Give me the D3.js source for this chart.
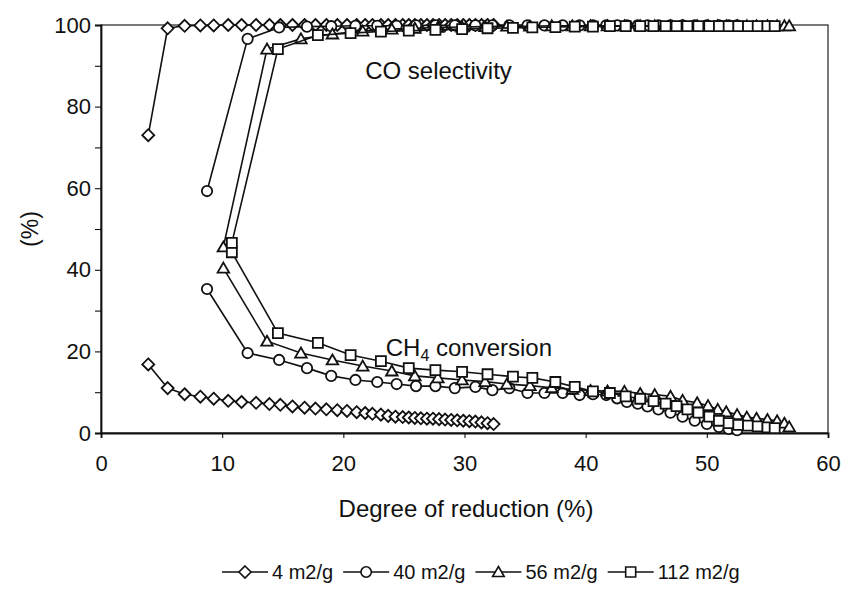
<!DOCTYPE html>
<html>
<head>
<meta charset="utf-8">
<script src="https://cdn.jsdelivr.net/npm/d3@7/dist/d3.min.js"></script>
<style>
  body { margin: 0; background: #fff; }
  svg text { font-family: "Liberation Sans", Arial, sans-serif; fill: #111; }
</style>
</head>
<body>
<svg id="chart" width="849" height="591"></svg>
<script>
// Axis ticks
const xTicks = [0, 10, 20, 30, 40, 50, 60];
const yTicks = [0, 20, 40, 60, 80, 100];
const yMinorTicks = [10, 30, 50, 70, 90];

// Series labels (specific surface area of the oxygen carrier)
const seriesNames = ["4 m2/g", "40 m2/g", "56 m2/g", "112 m2/g"];
const markerTypes = ["diamond", "circle", "triangle", "square"];

// 4 m2/g
const red4  = [3.9, 5.5, 6.9, 8.2, 9.3, 10.5, 11.6, 12.8, 13.9, 14.8, 15.8, 16.8, 17.7, 18.6, 19.5, 20.3, 21.1, 21.8, 22.4, 23.1, 23.7, 24.3, 24.9, 25.4, 25.9, 26.4, 26.9, 27.4, 27.9, 28.4, 28.9, 29.4, 29.9, 30.4, 30.9, 31.4, 31.9, 32.4];
const conv4 = [16.8, 11.0, 9.5, 8.9, 8.4, 7.9, 7.6, 7.4, 7.1, 6.9, 6.5, 6.2, 6.0, 5.8, 5.6, 5.4, 5.1, 4.9, 4.7, 4.5, 4.2, 4.0, 3.9, 3.8, 3.7, 3.6, 3.5, 3.5, 3.4, 3.3, 3.2, 3.1, 3.0, 2.9, 2.8, 2.6, 2.4, 2.2];
const sel4  = [73.0, 99.2, 99.8, 99.9, 99.9, 100, 100, 100, 100, 100, 100, 100, 100, 100, 100, 100, 100, 100, 100, 100, 100, 100, 100, 100, 100, 100, 100, 100, 100, 100, 100, 100, 100, 100, 100, 100, 100, 100];

// 40 m2/g
const red40  = [8.75, 12.1, 14.7, 17.0, 19.0, 21.0, 22.8, 24.4, 26.0, 27.6, 29.2, 30.9, 32.3, 33.7, 35.2, 36.6, 38.1, 39.5, 40.6, 41.7, 42.6, 43.4, 44.3, 45.1, 46.0, 47.0, 48.0, 49.0, 50.0, 51.0, 51.8, 52.5];
const conv40 = [35.3, 19.6, 17.9, 15.9, 14.0, 13.0, 12.5, 12.0, 11.5, 11.5, 11.0, 11.3, 10.5, 11.0, 9.8, 9.8, 9.8, 9.3, 9.5, 9.3, 8.5, 7.6, 7.2, 6.5, 5.8, 5.0, 4.0, 3.0, 2.2, 1.5, 1.0, 0.7];
const sel40  = [59.3, 96.6, 99.4, 99.6, 99.7, 99.8, 99.8, 99.8, 99.9, 99.9, 99.9, 99.9, 99.9, 99.9, 99.9, 99.9, 99.9, 99.9, 99.9, 99.9, 99.9, 99.9, 99.9, 99.9, 99.9, 99.9, 99.9, 99.9, 99.9, 99.9, 99.9, 99.9];

// 56 m2/g
const red56  = [10.1, 13.7, 16.5, 19.1, 21.6, 24.0, 25.9, 27.8, 29.8, 31.7, 33.5, 35.4, 37.2, 38.9, 40.4, 41.8, 43.2, 44.5, 45.7, 47.0, 48.0, 49.2, 50.1, 50.9, 51.6, 52.5, 53.3, 54.1, 55.0, 55.8, 56.4, 56.8];
const conv56 = [40.4, 22.5, 19.6, 17.9, 16.4, 15.2, 14.0, 13.5, 13.0, 12.6, 12.0, 11.6, 11.1, 10.7, 10.4, 10.3, 10.2, 9.7, 9.4, 9.0, 8.0, 7.4, 6.7, 5.8, 5.2, 4.5, 3.9, 3.6, 3.3, 3.0, 2.4, 1.5];
const sel56  = [45.6, 94.1, 96.6, 97.8, 98.5, 99.0, 99.2, 99.4, 99.5, 99.6, 99.7, 99.7, 99.8, 99.8, 99.8, 99.8, 99.8, 99.8, 99.8, 99.8, 99.8, 99.8, 99.8, 99.8, 99.8, 99.8, 99.8, 99.8, 99.8, 99.8, 99.8, 99.8];

// 112 m2/g
const red112  = [10.8, 14.6, 17.9, 20.6, 23.1, 25.4, 27.6, 29.8, 31.9, 34.0, 35.6, 37.5, 39.1, 40.6, 42.0, 43.3, 44.5, 45.6, 46.6, 47.5, 48.4, 49.3, 50.2, 51.0, 51.8, 52.6, 53.4, 54.2, 55.0, 55.6];
const conv112 = [44.3, 24.5, 22.1, 19.1, 17.6, 15.9, 15.4, 15.0, 14.4, 13.8, 13.5, 12.5, 11.3, 10.2, 9.8, 9.0, 8.4, 7.8, 7.2, 6.6, 5.8, 5.0, 4.0, 3.0, 2.4, 2.0, 1.8, 1.6, 1.4, 1.2];
const sel112  = [46.6, 94.1, 97.5, 98.0, 98.4, 98.6, 98.8, 99.0, 99.2, 99.3, 99.4, 99.5, 99.6, 99.6, 99.7, 99.7, 99.7, 99.7, 99.7, 99.7, 99.7, 99.7, 99.7, 99.7, 99.7, 99.7, 99.7, 99.7, 99.7, 99.7];

const reductions  = [red4, red40, red56, red112];
const conversions = [conv4, conv40, conv56, conv112];
const selectivities = [sel4, sel40, sel56, sel112];

// Layout
const plot = { left: 101, right: 828, top: 25, bottom: 433 };
const svg = d3.select("#chart");

const x = d3.scaleLinear().domain([0, 60]).range([plot.left, plot.right]);
const y = d3.scaleLinear().domain([0, 100]).range([plot.bottom, plot.top]);

// Marker outlines drawn around (0,0)
function markerPath(type) {
  switch (type) {
    case "diamond":  return "M0,-6L6,0L0,6L-6,0Z";
    case "circle":   return d3.symbol(d3.symbolCircle, Math.PI * 5.2 * 5.2)();
    case "triangle": return "M0,-5.5L5.8,4.5L-5.8,4.5Z";
    case "square":   return "M-5,-5H5V5H-5Z";
  }
}

// Plot frame
svg.append("rect")
  .attr("x", plot.left).attr("y", plot.top)
  .attr("width", plot.right - plot.left).attr("height", plot.bottom - plot.top)
  .attr("fill", "none").attr("stroke", "#222").attr("stroke-width", 1.2);

// Axes
const xAxis = d3.axisBottom(x).tickValues(xTicks).tickSize(5).tickPadding(17);
const yAxis = d3.axisLeft(y).tickValues(yTicks).tickSize(6).tickPadding(4);

const gx = svg.append("g").attr("transform", `translate(0,${plot.bottom})`).call(xAxis);
const gy = svg.append("g").attr("transform", `translate(${plot.left},0)`).call(yAxis);
svg.append("g").attr("transform", `translate(${plot.left},0)`)
  .call(d3.axisLeft(y).tickValues(yMinorTicks).tickSize(6).tickFormat(""))
  .select(".domain").remove();

[gx, gy].forEach(g => {
  g.select(".domain").attr("stroke", "#111").attr("stroke-width", 1.8);
  g.selectAll(".tick text").attr("font-size", 22).attr("fill", "#111")
    .style("font-family", "'Liberation Sans', Arial, sans-serif");
});
svg.selectAll(".tick line").attr("stroke", "#111").attr("stroke-width", 1.1);

// Axis titles
svg.append("text")
  .attr("x", 466).attr("y", 517)
  .attr("text-anchor", "middle").attr("font-size", 24)
  .text("Degree of reduction (%)");

svg.append("text")
  .attr("transform", `translate(38,${(plot.top + plot.bottom) / 2}) rotate(-90)`)
  .attr("text-anchor", "middle").attr("font-size", 23)
  .text("(%)");

// Curve annotations
svg.append("text")
  .attr("x", x(21.8)).attr("y", 79)
  .attr("font-size", 24).text("CO selectivity");

const ch4 = svg.append("text")
  .attr("x", x(23.5)).attr("y", 356)
  .attr("font-size", 24);
ch4.append("tspan").text("CH");
ch4.append("tspan").attr("font-size", 16).attr("dy", 5).text("4");
ch4.append("tspan").attr("dy", -5).text(" conversion");

// Data curves: conversion and selectivity for each sample
const line = d3.line().x(d => x(d[0])).y(d => y(d[1]));

seriesNames.forEach((name, i) => {
  const g = svg.append("g").attr("class", "series");
  [conversions[i], selectivities[i]].forEach(vals => {
    const pts = reductions[i].map((r, k) => [r, vals[k]]);
    g.append("path").datum(pts)
      .attr("d", line).attr("fill", "none")
      .attr("stroke", "#111").attr("stroke-width", 1.6);
    g.selectAll(null).data(pts).enter().append("path")
      .attr("d", markerPath(markerTypes[i]))
      .attr("transform", d => `translate(${x(d[0])},${y(d[1])})`)
      .attr("fill", "#fff").attr("stroke", "#111").attr("stroke-width", 1.8);
  });
});

// Legend
const legend = svg.append("g").attr("transform", "translate(0,572)");
let lx = 222;
seriesNames.forEach((name, i) => {
  const item = legend.append("g").attr("transform", `translate(${lx},0)`);
  item.append("line").attr("x1", 0).attr("x2", 46).attr("y1", 0).attr("y2", 0)
    .attr("stroke", "#111").attr("stroke-width", 1.5);
  item.append("path").attr("d", markerPath(markerTypes[i]))
    .attr("transform", "translate(23,0)")
    .attr("fill", "#fff").attr("stroke", "#111").attr("stroke-width", 1.6);
  const t = item.append("text").attr("x", 50).attr("y", 7)
    .attr("font-size", 20).text(name);
  lx += 50 + t.node().getComputedTextLength() + 10;
});
</script>
</body>
</html>
